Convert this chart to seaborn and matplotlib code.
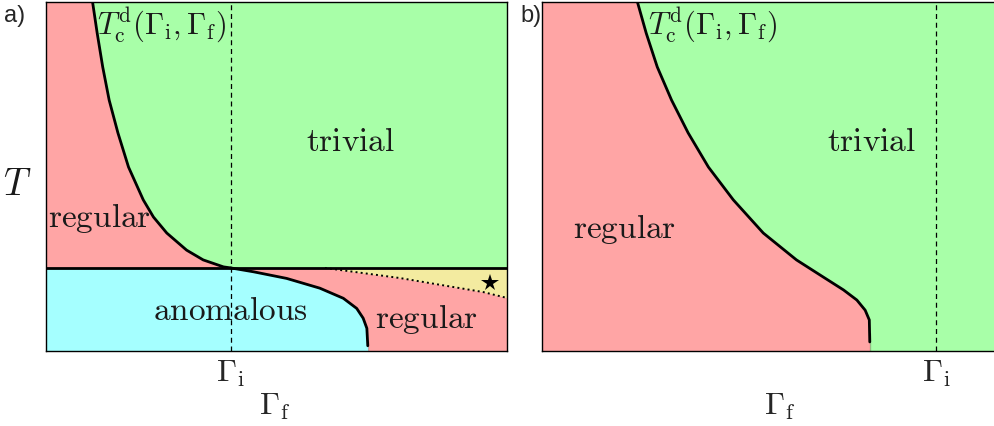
import numpy as np
import pandas as pd
import matplotlib
matplotlib.use("Agg")
import matplotlib.pyplot as plt
import seaborn as sns

# ---------------- data (schematic phase diagram, axes units 0..1) ----------------
# panel a: T_c^d boundary (trivial vs regular) above the horizontal line
a_tc_x = [0.101, 0.111, 0.123, 0.137, 0.156, 0.179, 0.211, 0.233, 0.262, 0.305, 0.341, 0.385, 0.401]
a_tc_y = [1.000, 0.911, 0.814, 0.719, 0.625, 0.527, 0.433, 0.384, 0.338, 0.289, 0.261, 0.241, 0.238]
a_line_y = 0.238           # horizontal phase line
a_gamma_i = 0.401          # dashed Gamma_i
# anomalous boundary below the line
a_anom_x = [0.000, 0.401, 0.450, 0.522, 0.594, 0.645, 0.674, 0.688, 0.696, 0.698, 0.698]
a_anom_y = [0.238, 0.238, 0.227, 0.208, 0.180, 0.151, 0.122, 0.094, 0.065, 0.030, 0.000]
# dotted boundary of the yellow region
a_dot_x = [0.605, 0.768, 0.948, 1.000]
a_dot_y = [0.238, 0.209, 0.169, 0.152]
a_star = (0.963, 0.195)

# panel b: T_c^d boundary
b_tc_x = [0.207, 0.226, 0.250, 0.281, 0.317, 0.361, 0.415, 0.480, 0.552, 0.610, 0.654,
          0.683, 0.701, 0.710, 0.711, 0.711]
b_tc_y = [1.000, 0.911, 0.814, 0.719, 0.625, 0.527, 0.433, 0.338, 0.261, 0.212, 0.175,
          0.146, 0.117, 0.089, 0.052, 0.000]
b_gamma_i = 0.855

RED = "#FFA5A5"
GREEN = "#A8FFA8"
CYAN = "#A5FFFF"
YELLOW = "#F3EBA0"

sns.set_theme(style="white")
plt.rcParams["mathtext.fontset"] = "cm"
plt.rcParams["font.family"] = ["DejaVu Sans"]

fig = plt.figure(figsize=(9.95, 4.26), dpi=100)
W, H = 995, 426
axa = fig.add_axes([46 / W, (H - 351) / H, 461 / W, 349 / H])
axb = fig.add_axes([542 / W, (H - 351) / H, 461 / W, 349 / H])

for ax in (axa, axb):
    ax.set_xlim(0, 1)
    ax.set_ylim(0, 1)
    ax.set_facecolor(GREEN)
    for s in ax.spines.values():
        s.set_color("black")
        s.set_linewidth(1.0)
    ax.tick_params(length=0, labelsize=23, pad=5)
    ax.set_yticks([])
axb.spines["right"].set_visible(False)

LW = 2.0
# ---------- panel a ----------
axa.fill_betweenx(a_tc_y, 0, a_tc_x, color=RED, lw=0, zorder=1)
axa.fill_between([0, 1], 0, a_line_y, color=RED, lw=0, zorder=1)
axa.fill_between(a_anom_x, 0, a_anom_y, color=CYAN, lw=0, zorder=2)
axa.fill_between(a_dot_x, a_dot_y, a_line_y, color=YELLOW, lw=0, zorder=2)

df = pd.DataFrame({"x": a_tc_x, "y": a_tc_y})
sns.lineplot(data=df, x="x", y="y", sort=False, color="black", lw=LW, ax=axa, zorder=5)
df = pd.DataFrame({"x": a_anom_x[1:], "y": a_anom_y[1:]})
sns.lineplot(data=df, x="x", y="y", sort=False, color="black", lw=LW, ax=axa, zorder=5)
df = pd.DataFrame({"x": a_dot_x, "y": a_dot_y})
sns.lineplot(data=df, x="x", y="y", sort=False, color="black", lw=1.4, ls=":", ax=axa, zorder=5)
axa.axhline(a_line_y, color="black", lw=LW, zorder=5)
axa.axvline(a_gamma_i, color="black", lw=0.9, ls=(0, (4, 3)), zorder=4)
axa.plot(*a_star, marker="*", ms=13, color="black", mec="black", mew=0, ls="none", zorder=6)

tkw = dict(fontsize=24, color="#1a1a1a", zorder=7)
lkw = dict(fontsize=22, color="#1a1a1a", zorder=7)
axa.text(0.66, 0.60, r"$\mathrm{trivial}$", ha="center", va="center", **tkw)
axa.text(0.005, 0.38, r"$\mathrm{regular}$", ha="left", va="center", **tkw)
axa.text(0.40, 0.115, r"$\mathrm{anomalous}$", ha="center", va="center", **tkw)
axa.text(0.825, 0.092, r"$\mathrm{regular}$", ha="center", va="center", **tkw)
axa.text(0.11, 0.935, r"$T_\mathrm{c}^\mathrm{d}(\Gamma_\mathrm{i},\Gamma_\mathrm{f})$",
         ha="left", va="center", **lkw)
axa.set_xticks([a_gamma_i])
axa.set_xticklabels([r"$\Gamma_\mathrm{i}$"])
axa.set_xlabel(r"$\Gamma_\mathrm{f}$", fontsize=23)
axa.xaxis.set_label_coords(0.497, -0.115)
axa.set_ylabel("")
axa.text(-0.062, 0.476, r"$T$", transform=axa.transAxes, fontsize=27,
         ha="center", va="center", color="#1a1a1a")

# ---------- panel b ----------
axb.fill_betweenx(b_tc_y, 0, b_tc_x, color=RED, lw=0, zorder=1)
df = pd.DataFrame({"x": b_tc_x, "y": b_tc_y})
sns.lineplot(data=df, x="x", y="y", sort=False, color="black", lw=LW, ax=axb, zorder=5)
axb.axvline(b_gamma_i, color="black", lw=0.9, ls=(0, (4, 3)), zorder=4)
axb.text(0.715, 0.60, r"$\mathrm{trivial}$", ha="center", va="center", **tkw)
axb.text(0.18, 0.35, r"$\mathrm{regular}$", ha="center", va="center", **tkw)
axb.text(0.23, 0.935, r"$T_\mathrm{c}^\mathrm{d}(\Gamma_\mathrm{i},\Gamma_\mathrm{f})$",
         ha="left", va="center", **lkw)
axb.set_xticks([b_gamma_i])
axb.set_xticklabels([r"$\Gamma_\mathrm{i}$"])
axb.set_xlabel(r"$\Gamma_\mathrm{f}$", fontsize=23)
axb.xaxis.set_label_coords(0.516, -0.115)
axb.set_ylabel("")

fig.text(4 / W, 1 - 16 / H, "a)", fontsize=17, family="Liberation Sans", va="center", ha="left")
fig.text(520 / W, 1 - 16 / H, "b)", fontsize=17, family="Liberation Sans", va="center", ha="left")

fig.savefig("out.png", dpi=100)
